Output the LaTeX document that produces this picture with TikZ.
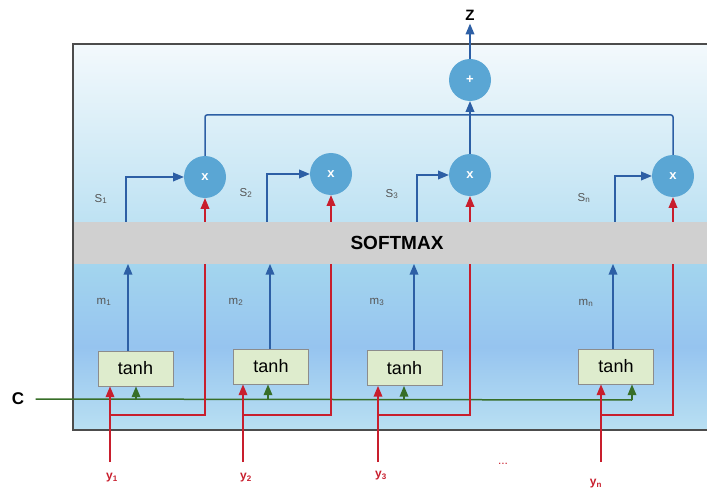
\documentclass[tikz,border=0pt]{standalone}
\usepackage{fontspec}
\setmainfont{Liberation Sans}
\usetikzlibrary{arrows,shapes}
\definecolor{circfill}{RGB}{90,166,212}
\definecolor{bluec}{RGB}{45,95,165}
\definecolor{redc}{RGB}{200,30,45}
\definecolor{greenc}{RGB}{55,110,40}
\definecolor{boxfill}{RGB}{222,236,205}
\definecolor{softgray}{RGB}{208,208,208}
\definecolor{paneltop}{RGB}{243,249,252}
\definecolor{panelmid}{RGB}{190,226,243}
\definecolor{panellow}{RGB}{163,213,238}
\definecolor{labgray}{RGB}{85,85,85}
\tikzstyle{mult}=[circle,fill=circfill,minimum size=42pt,inner sep=0pt,text=white,font=\bfseries\fontsize{13}{13}\selectfont]
\tikzstyle{tanhbox}=[draw=black!45,fill=boxfill,line width=1pt,minimum width=75pt,minimum height=35pt,inner sep=0pt,font=\fontsize{18}{18}\selectfont]
\tikzstyle{slabel}=[text=labgray,font=\fontsize{11.5}{11.5}\selectfont]
\tikzstyle{ylabel}=[text=redc,font=\bfseries\fontsize{12}{12}\selectfont]
\tikzstyle{bluearrow}=[draw,line width=1.5pt,bluec,-triangle 45]
\tikzstyle{redarrow}=[draw,line width=1.5pt,redc,-triangle 45]
\tikzstyle{redline}=[draw,line width=1.5pt,redc]
\tikzstyle{greenarrow}=[draw,line width=1.5pt,greenc,-triangle 45]

\begin{document}
\begin{tikzpicture}[x=1pt,y=-1pt]
    \useasboundingbox (0,0) rectangle (707,489);
    % First we draw the panel and the softmax band
    \fill[top color=paneltop,bottom color=panelmid] (73,44) rectangle (720,222);
    \fill[top color=panellow,bottom color=panelmid!80!panellow,middle color=panellow!92!blue] (73,264) rectangle (720,430);
    \fill[softgray] (73,222) rectangle (720,264);
    \draw[black!70,line width=1.2pt] (720,44) -- (73,44) -- (73,430) -- (720,430);
    \node[font=\bfseries\fontsize{19}{19}\selectfont] (soft) at (397,243) {SOFTMAX};
    \coordinate (softtop) at (0,222);
    \coordinate (softbot) at (0,264);
    % Multiplication and sum nodes
    \foreach \pos/\name in {{(205,177)/m1}, {(331,174)/m2}, {(470,175)/m3}, {(673,176)/mn}}
        \node[mult] (\name) at \pos {x};
    \node[mult] (plus) at (470,80) {+};
    \node[font=\bfseries\fontsize{15}{15}\selectfont] (z) at (470,15) {Z};
    \coordinate (sumrow) at (0,115);
    \draw[line width=1.5pt,bluec,rounded corners=2pt] (m1.north) |- (sumrow -| mn.north) -- (mn.north);
    \path[bluearrow] (m3.north) -- (plus.south);
    \path[bluearrow] (plus.north) -- (z.south);
    % Weights from the softmax
    \foreach \i/\sx/\lx/\ly in {1/126/101/199, 2/267/246/193, 3/417/392/194, n/615/584/198} {
        \coordinate (s\i) at (\sx,222);
        \path[bluearrow] (s\i) |- (m\i.west);
        \node[slabel] (sl\i) at (\lx,\ly) {S\textsubscript{\i}};
        \path[redarrow] (m\i.south |- softtop) -- (m\i.south);
    }
    % Context line
    \node[font=\bfseries\fontsize{17}{17}\selectfont] (c) at (18,399) {C};
    \coordinate (cend) at (632,400);
    \draw[line width=1.5pt,greenc] (c.east) ++(8,0) coordinate (cstart) -- (cend);
    % tanh units and inputs
    \foreach \i/\tx/\ty/\mx/\gx/\yx/\lx/\ly in {1/135.5/368.5/128/136/110/104/302, 2/271/366.5/270/268/243/236/302, 3/404.5/368/414/404/378/377/302, n/616/366.5/613/632/601/586/303} {
        \node[tanhbox] (t\i) at (\tx,\ty) {tanh};
        \path[bluearrow] (\mx,0 |- t\i.north) -- (\mx,264);
        \node[slabel] (ml\i) at (\lx,\ly) {m\textsubscript{\i}};
        \path[greenarrow] (\gx,400) -- (\gx,0 |- t\i.south);
        \coordinate (yb\i) at (\yx,462);
        \coordinate (yt\i) at (\yx,415);
        \path[redarrow] (yb\i) -- (yb\i |- t\i.south);
        \path[redline] (yt\i) -| (m\i.south |- softbot);
    }
    \foreach \i/\pos in {1/{(112,478)}, 2/{(246,478)}, 3/{(381,476)}, n/{(596,484)}}
        \node[ylabel] (y\i) at \pos {y\textsubscript{\i}};
    \node[text=redc,font=\fontsize{12}{12}\selectfont] (dots) at (503,464) {...};
\end{tikzpicture}
\end{document}
